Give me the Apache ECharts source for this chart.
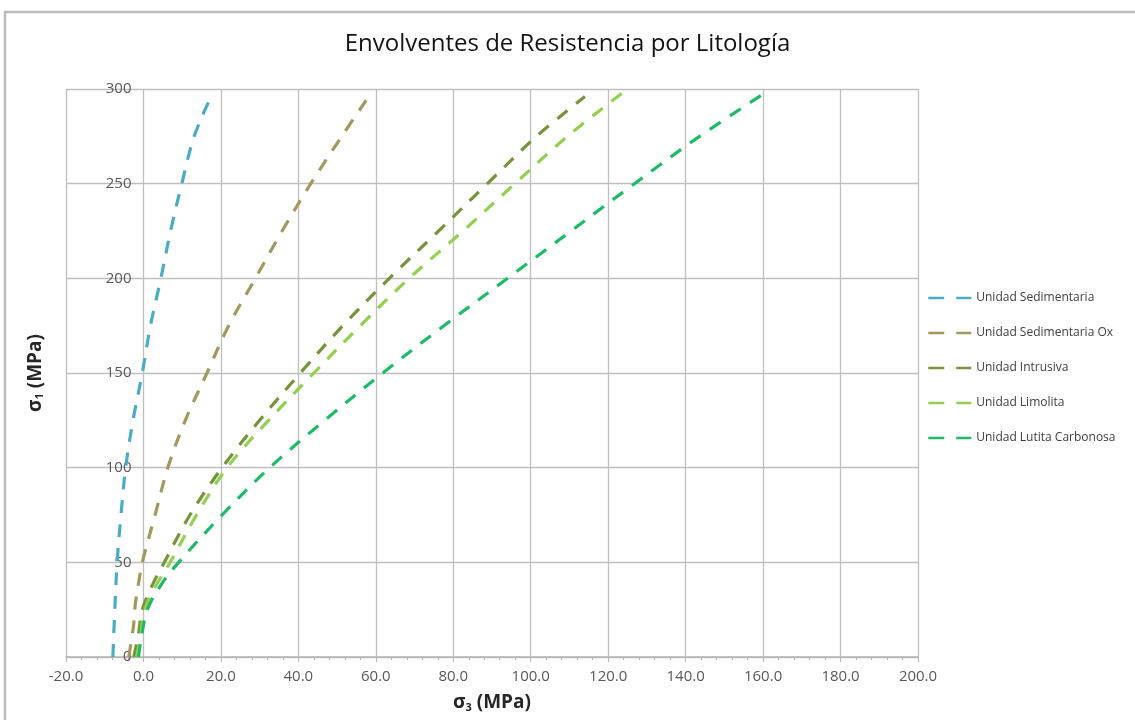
<!DOCTYPE html>
<html>
<head>
<meta charset="utf-8">
<script src="https://cdn.jsdelivr.net/npm/echarts@6/dist/echarts.min.js"></script>
<style>
html,body{margin:0;padding:0;background:#fff;}
#c{width:1135px;height:720px;}
</style>
</head>
<body>
<div id="c"></div>
<script>
// ---- data (sigma3, sigma1) pairs in MPa ----
const seriesNames = ["Unidad Sedimentaria", "Unidad Sedimentaria Ox", "Unidad Intrusiva", "Unidad Limolita", "Unidad Lutita Carbonosa"];
const sedimentaria = [[-7.9,0],[-7.5,20],[-6.8,50],[-5.8,75],[-4.6,100],[-2.7,125],[-0.3,150],[1.8,175],[4.5,200],[7.0,225],[9.9,250],[13.1,275],[17.0,294]];
const sedimentariaOx = [[-3.8,0],[-2.6,16],[-2.1,28],[-1.1,41],[-0.3,50],[3.0,75],[6.3,100],[10.8,125],[16.4,150],[22.0,175],[28.9,200],[35.8,225],[43.2,250],[51.2,275],[57.5,294]];
const intrusiva = [[-2.5,0],[-1.3,12],[-0.3,25],[2.3,38],[5.4,50],[12.0,75],[20.3,100],[30.0,125],[40.5,150],[51.5,175],[63.5,200],[76.2,225],[88.8,250],[101.5,275],[114.0,296]];
const limolita = [[-1.7,0],[-0.7,12],[0.3,25],[3.3,38],[6.9,50],[13.7,75],[21.6,100],[32.3,125],[44.0,150],[56.0,175],[68.6,200],[82.5,225],[95.9,250],[109.5,275],[123.7,298]];
const lutita = [[-1.3,0],[-0.4,12],[1.0,25],[4.5,38],[9.1,50],[20.3,75],[32.6,100],[46.8,125],[61.8,150],[77.6,175],[94.0,200],[110.4,225],[126.8,250],[143.6,275],[161.3,299]];
const seriesData = [sedimentaria, sedimentariaOx, intrusiva, limolita, lutita];
const colors = ["#4bacc6", "#a3995f", "#77933c", "#92d050", "#1dbb68"];
const xTickMin = -20, xTickMax = 200, xTickStep = 20;
const yTickMin = 0, yTickMax = 300, yTickStep = 50;

const chart = echarts.init(document.getElementById('c'));
const font = "'Open Sans', 'Liberation Sans', sans-serif";
const gridColor = '#bfbfbf';
chart.setOption({
  animation: false,
  backgroundColor: '#ffffff',
  color: colors,
  title: {
    text: 'Envolventes de Resistencia por Litología',
    left: 'center', top: 27,
    textStyle: {fontFamily: font, fontSize: 24, fontWeight: 'normal', color: '#141414'}
  },
  graphic: [{
    type: 'rect', z: -1, silent: true,
    shape: {x: 5, y: 12, width: 1200, height: 800},
    style: {fill: 'none', stroke: '#bdbdbd', lineWidth: 2.5}
  }],
  legend: {
    orient: 'vertical', left: 927, top: 292, padding: 0,
    itemWidth: 43, itemHeight: 14, itemGap: 23,
    itemStyle: {color: 'rgba(0,0,0,0)', borderWidth: 0},
    lineStyle: {type: [16, 12], width: 2.5},
    textStyle: {fontFamily: font, fontSize: 12, color: '#404040'},
    data: seriesNames
  },
  grid: {left: 66, right: 217, top: 89, bottom: 63, containLabel: false, outerBoundsMode: 'none'},
  xAxis: {
    type: 'value', min: xTickMin, max: xTickMax, interval: xTickStep,
    name: '{a|σ}{s|3}{a| (MPa)}', nameLocation: 'middle', nameGap: 36,
    nameTextStyle: {rich: {
      a: {fontFamily: font, fontSize: 19, fontWeight: 'bold', color: '#262626'},
      s: {fontFamily: font, fontSize: 11, fontWeight: 'bold', color: '#262626', verticalAlign: 'bottom', padding: [9,0,0,0]}
    }},
    axisLine: {onZero: false, lineStyle: {color: '#b5b5b5', width: 1.5}},
    axisTick: {show: true, length: 5, lineStyle: {color: '#b5b5b5'}},
    minorTick: {show: true, splitNumber: 5, length: 3, lineStyle: {color: '#b5b5b5'}},
    axisLabel: {fontFamily: font, fontSize: 15, color: '#595959', margin: 12,
      formatter: v => v.toFixed(1)},
    splitLine: {show: true, lineStyle: {color: gridColor, width: 1.3}}
  },
  yAxis: {
    type: 'value', min: yTickMin, max: yTickMax, interval: yTickStep,
    name: '{a|σ}{s|1}{a| (MPa)}', nameLocation: 'middle', nameGap: 98, nameRotate: 90,
    nameTextStyle: {rich: {
      a: {fontFamily: font, fontSize: 19, fontWeight: 'bold', color: '#262626'},
      s: {fontFamily: font, fontSize: 11, fontWeight: 'bold', color: '#262626', verticalAlign: 'bottom', padding: [9,0,0,0]}
    }},
    axisLine: {show: false},
    axisTick: {show: false},
    axisLabel: {fontFamily: font, fontSize: 15, color: '#595959', margin: 12},
    splitLine: {show: true, lineStyle: {color: gridColor, width: 1.3}}
  },
  series: seriesNames.map((n, i) => ({
    name: n, type: 'line', data: seriesData[i], smooth: 0.35,
    symbol: 'none', showSymbol: false,
    lineStyle: {color: colors[i], width: 3.2, type: [13, 11]}
  }))
});
// the vertical axis crosses the horizontal one at sigma3 = 0 (as in the original)
const pxZero = chart.convertToPixel({xAxisIndex: 0}, 0);
const pxMin = chart.convertToPixel({xAxisIndex: 0}, xTickMin);
chart.setOption({yAxis: {offset: pxMin - pxZero}});
</script>
</body>
</html>
